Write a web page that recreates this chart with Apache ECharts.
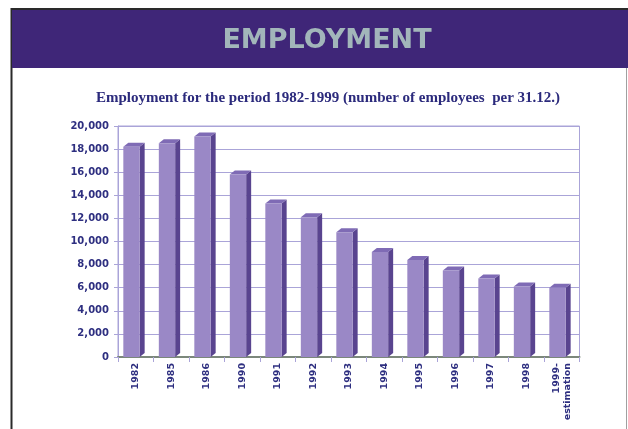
<!DOCTYPE html>
<html>
<head>
<meta charset="utf-8">
<style>
  html, body { margin: 0; padding: 0; background: #ffffff; }
  #chart { width: 628px; height: 429px; }
</style>
<script src="https://cdn.jsdelivr.net/npm/echarts@6/dist/echarts.min.js"></script>
</head>
<body>
<div id="chart"></div>
<script>
// Employment figures, number of employees at 31.12. of each year
const years = ['1982', '1985', '1986', '1990', '1991', '1992', '1993', '1994', '1995', '1996', '1997', '1998', '1999-\nestimation'];
const employees = [18200, 18500, 19100, 15800, 13300, 12100, 10800, 9100, 8400, 7500, 6800, 6100, 6000];
const yTicks = [0, 2000, 4000, 6000, 8000, 10000, 12000, 14000, 16000, 18000, 20000];

const chart = echarts.init(document.getElementById('chart'), null, { renderer: 'canvas' });

// Prism-style bar: front face, darker right side, lighter top
function renderBar(params, api) {
  const idx = api.value(0);
  const val = api.value(1);
  const top = api.coord([idx, val]);
  const base = api.coord([idx, 0]);
  const band = api.size([1, 0])[0];
  const w = band * 0.46;
  const dx = 5, dy = 4;
  const left = top[0] - band / 2 + band * 0.15;
  const right = left + w;
  return {
    type: 'group',
    children: [
      {
        type: 'polygon',
        shape: { points: [[right, top[1]], [right + dx, top[1] - dy], [right + dx, base[1] - dy], [right, base[1]]] },
        style: { fill: '#59448f' }
      },
      {
        type: 'polygon',
        shape: { points: [[left, top[1]], [left + dx, top[1] - dy], [right + dx, top[1] - dy], [right, top[1]]] },
        style: { fill: '#7f6bb5' }
      },
      {
        type: 'rect',
        shape: { x: left, y: top[1], width: w, height: base[1] - top[1] },
        style: { fill: '#9a88c6' }
      }
    ]
  };
}

const option = {
  backgroundColor: '#ffffff',
  animation: false,
  graphic: [
    // page frame: dark top and left edges, thin grey right edge
    { type: 'line', z: -9, shape: { x1: 11, y1: 9, x2: 628, y2: 9 }, style: { stroke: '#2a2a2a', lineWidth: 2 } },
    { type: 'line', z: -9, shape: { x1: 11.5, y1: 8, x2: 11.5, y2: 429 }, style: { stroke: '#2a2a2a', lineWidth: 2 } },
    { type: 'rect', z: -9, shape: { x: 12, y: 10, width: 616, height: 58 }, style: { fill: '#3f2678' } },
    { type: 'line', z: -9, shape: { x1: 626.5, y1: 68, x2: 626.5, y2: 429 }, style: { stroke: '#a0a0a0', lineWidth: 1 } }
  ],
  title: [
    {
      text: 'EMPLOYMENT',
      left: 322, top: 22, textAlign: 'center',
      textStyle: { fontFamily: 'DejaVu Sans', fontWeight: 'bold', fontSize: 27, color: '#a2b6ba' }
    },
    {
      text: 'Employment for the period 1982-1999 (number of employees  per 31.12.)',
      left: 323, top: 86, textAlign: 'center',
      textStyle: { fontFamily: 'Liberation Serif', fontWeight: 'bold', fontSize: 15, color: '#2b2a7c' }
    }
  ],
  grid: {
    left: 118, right: 48.5, top: 126, bottom: 72,
    show: true, borderColor: '#aaa4d8', borderWidth: 1, backgroundColor: 'transparent'
  },
  xAxis: {
    type: 'category',
    data: years,
    axisLine: { show: true, lineStyle: { color: '#7b877b', width: 2 } },
    axisTick: { show: true, interval: 0, length: 5, lineStyle: { color: '#aaa4d8' } },
    axisLabel: {
      interval: 0, rotate: 90, margin: 6,
      fontFamily: 'DejaVu Sans', fontWeight: 'bold', fontSize: 9.5, color: '#2e2f80', lineHeight: 11
    }
  },
  yAxis: {
    type: 'value',
    min: yTicks[0], max: yTicks[yTicks.length - 1], interval: 2000,
    axisLine: { show: true, lineStyle: { color: '#aaa4d8' } },
    axisTick: { show: true, length: 4, lineStyle: { color: '#aaa4d8' } },
    splitLine: { show: true, lineStyle: { color: '#aaa4d8', width: 1 } },
    axisLabel: {
      margin: 9,
      fontFamily: 'DejaVu Sans', fontWeight: 'bold', fontSize: 10, color: '#2e2f80',
      formatter: v => v.toLocaleString('en-US')
    }
  },
  series: [
    {
      type: 'custom',
      renderItem: renderBar,
      encode: { x: 0, y: 1 },
      data: employees.map((v, i) => [i, v])
    }
  ]
};

chart.setOption(option);
</script>
</body>
</html>
